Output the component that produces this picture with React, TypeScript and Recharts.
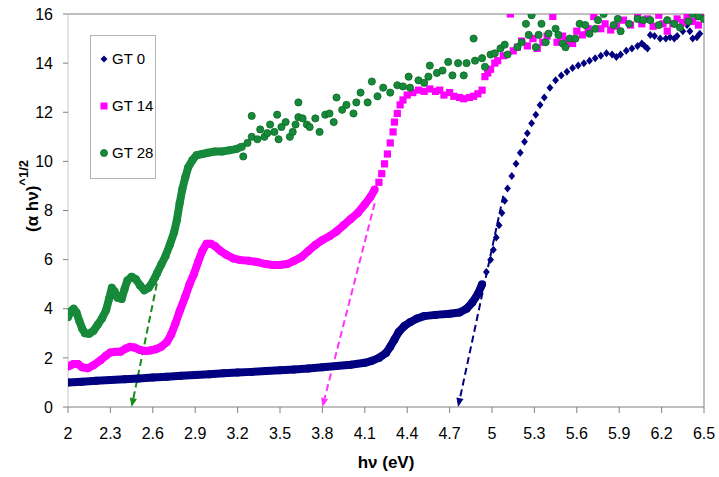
import { ComposedChart, Scatter, XAxis, YAxis, ReferenceLine } from "recharts";

type Pt = [number, number];

// GT 0: dense low-energy band, then the sparse diamonds of the steep edge
const gt0Band: Pt[] = [
  [2.0, 1.0], [2.1, 1.03], [2.2, 1.07], [2.3, 1.1], [2.4, 1.13], [2.5, 1.16],
  [2.6, 1.2], [2.7, 1.23], [2.8, 1.27], [2.9, 1.3], [3.0, 1.33], [3.1, 1.37],
  [3.2, 1.4], [3.3, 1.43], [3.4, 1.47], [3.5, 1.5], [3.6, 1.53], [3.7, 1.57],
  [3.8, 1.62], [3.9, 1.67], [4.0, 1.72], [4.1, 1.8], [4.15, 1.88], [4.2, 2.0],
  [4.25, 2.2], [4.28, 2.45], [4.31, 2.75], [4.34, 3.05], [4.38, 3.3], [4.42, 3.45],
  [4.47, 3.6], [4.52, 3.7], [4.6, 3.75], [4.7, 3.8], [4.77, 3.85], [4.82, 4.0],
  [4.86, 4.25], [4.9, 4.6], [4.93, 5.0],
];
const gt0Points: Pt[] = [
  [4.96, 5.5], [4.99, 6.0], [5.01, 6.4], [5.03, 6.9], [5.05, 7.4], [5.07, 7.9],
  [5.09, 8.4], [5.11, 8.9], [5.14, 9.4], [5.17, 9.9], [5.2, 10.35], [5.23, 10.8],
  [5.25, 11.15], [5.28, 11.55], [5.31, 11.9], [5.34, 12.3], [5.37, 12.6], [5.41, 13.0],
  [5.45, 13.3], [5.49, 13.5], [5.53, 13.65], [5.57, 13.8], [5.61, 13.9], [5.65, 14.0],
  [5.69, 14.1], [5.73, 14.2], [5.77, 14.3], [5.81, 14.4], [5.85, 14.35], [5.88, 14.25],
  [5.91, 14.35], [5.95, 14.5], [5.99, 14.6], [6.03, 14.7], [6.06, 14.8], [6.08, 14.7],
  [6.1, 14.6], [6.12, 15.15], [6.15, 15.1], [6.19, 15.0], [6.23, 15.0], [6.26, 15.05],
  [6.29, 15.0], [6.31, 15.1], [6.35, 15.3], [6.38, 15.55], [6.4, 15.3], [6.42, 15.0],
  [6.45, 15.05], [6.47, 15.2],
];

// GT 14
const gt14Band: Pt[] = [
  [2.0, 1.65], [2.04, 1.75], [2.07, 1.75], [2.1, 1.62], [2.14, 1.58], [2.18, 1.7],
  [2.23, 1.9], [2.27, 2.1], [2.3, 2.22], [2.34, 2.25], [2.37, 2.25], [2.41, 2.38],
  [2.44, 2.45], [2.47, 2.42], [2.51, 2.32], [2.55, 2.28], [2.58, 2.3], [2.62, 2.35],
  [2.66, 2.45], [2.7, 2.65], [2.73, 2.95], [2.76, 3.4], [2.79, 3.9], [2.83, 4.5],
  [2.86, 5.0], [2.89, 5.4], [2.92, 5.9], [2.95, 6.35], [2.98, 6.65], [3.01, 6.65],
  [3.04, 6.55], [3.08, 6.35], [3.12, 6.2], [3.17, 6.05], [3.22, 5.98], [3.28, 5.95],
  [3.34, 5.9], [3.4, 5.82], [3.45, 5.78], [3.5, 5.78], [3.55, 5.82], [3.6, 5.95],
  [3.65, 6.1], [3.7, 6.35], [3.75, 6.6], [3.8, 6.8], [3.85, 6.95], [3.9, 7.15],
  [3.95, 7.4], [4.0, 7.65], [4.05, 7.9], [4.1, 8.25], [4.14, 8.55], [4.17, 8.85],
];
const gt14Points: Pt[] = [
  [4.2, 9.15], [4.22, 9.5], [4.24, 9.9], [4.26, 10.3], [4.28, 10.75], [4.3, 11.2],
  [4.31, 11.6], [4.33, 11.95], [4.35, 12.3], [4.37, 12.5], [4.4, 12.7], [4.44, 12.8],
  [4.48, 12.9], [4.52, 12.85], [4.56, 12.95], [4.6, 12.85], [4.63, 12.9], [4.66, 12.7],
  [4.7, 12.8], [4.73, 12.65], [4.77, 12.6], [4.8, 12.55], [4.84, 12.6], [4.87, 12.65],
  [4.9, 12.75], [4.93, 12.9], [4.95, 13.45], [4.97, 13.6], [4.99, 13.75], [5.02, 14.0],
  [5.04, 14.1], [5.08, 14.3], [5.13, 16.0], [5.15, 14.5], [5.18, 14.65], [5.21, 14.9],
  [5.25, 14.7], [5.29, 15.0], [5.32, 14.6], [5.36, 14.85], [5.39, 15.1], [5.43, 15.9],
  [5.46, 14.85], [5.5, 15.1], [5.53, 14.9], [5.57, 14.8], [5.6, 15.3], [5.64, 15.15],
  [5.68, 15.4], [5.72, 15.9], [5.77, 15.4], [5.8, 15.6], [5.84, 15.35], [5.88, 15.5],
  [5.93, 15.75], [5.98, 15.55], [6.03, 15.95], [6.06, 15.6], [6.1, 15.8], [6.14, 15.5],
  [6.18, 15.95], [6.21, 15.6], [6.24, 15.3], [6.28, 15.6], [6.31, 15.8], [6.35, 15.65],
  [6.38, 15.9], [6.42, 15.7], [6.46, 15.55], [6.48, 15.95],
];

// GT 28
const gt28Band: Pt[] = [
  [2.0, 3.65], [2.02, 3.9], [2.04, 4.0], [2.06, 3.85], [2.08, 3.5], [2.1, 3.2],
  [2.12, 3.0], [2.15, 2.98], [2.18, 3.1], [2.21, 3.35], [2.24, 3.6], [2.27, 3.95],
  [2.29, 4.4], [2.31, 4.85], [2.33, 4.7], [2.35, 4.45], [2.38, 4.4], [2.4, 4.8],
  [2.42, 5.15], [2.45, 5.3], [2.48, 5.2], [2.51, 4.95], [2.54, 4.75], [2.57, 4.85],
  [2.6, 5.1], [2.63, 5.45], [2.66, 5.8], [2.69, 6.15], [2.72, 6.6], [2.75, 7.1],
  [2.77, 7.6], [2.79, 8.3], [2.81, 8.9], [2.83, 9.35], [2.85, 9.75], [2.88, 10.05],
  [2.91, 10.25], [2.95, 10.3], [2.99, 10.35], [3.04, 10.4], [3.09, 10.4], [3.14, 10.45],
  [3.19, 10.5], [3.23, 10.6],
];
const gt28Points: Pt[] = [
  [3.24, 10.2], [3.27, 10.75], [3.3, 11.85], [3.3, 11.0], [3.34, 10.9], [3.36, 11.3],
  [3.39, 11.0], [3.41, 11.15], [3.43, 11.5], [3.46, 11.2], [3.48, 11.9], [3.49, 10.9],
  [3.51, 11.4], [3.54, 11.6], [3.57, 11.0], [3.59, 11.2], [3.61, 11.5], [3.63, 12.4],
  [3.63, 11.8], [3.66, 11.75], [3.69, 11.5], [3.71, 11.4], [3.75, 11.75], [3.78, 11.2],
  [3.82, 11.9], [3.85, 11.95], [3.88, 11.6], [3.9, 12.6], [3.94, 12.1], [3.97, 12.3],
  [4.02, 11.95], [4.04, 12.4], [4.07, 12.8], [4.12, 12.4], [4.15, 13.25], [4.19, 12.65],
  [4.23, 13.0], [4.28, 12.8], [4.33, 13.1], [4.37, 13.05], [4.41, 13.45], [4.42, 13.0],
  [4.48, 13.3], [4.52, 13.2], [4.55, 13.45], [4.56, 13.9], [4.61, 13.6], [4.65, 13.7],
  [4.69, 14.05], [4.72, 13.5], [4.76, 14.0], [4.8, 13.5], [4.82, 14.0], [4.87, 15.0],
  [4.88, 14.1], [4.93, 14.2], [4.95, 13.85], [4.99, 14.35], [5.02, 14.4], [5.06, 14.6],
  [5.09, 14.75], [5.11, 14.35], [5.18, 14.65], [5.21, 14.85], [5.24, 15.6], [5.26, 15.15],
  [5.28, 15.95], [5.31, 14.65], [5.33, 15.15], [5.35, 15.6], [5.38, 14.85], [5.4, 15.2],
  [5.45, 15.4], [5.47, 15.15], [5.5, 14.8], [5.52, 14.65], [5.55, 15.0], [5.59, 15.0],
  [5.62, 15.6], [5.66, 15.55], [5.69, 15.2], [5.73, 15.4], [5.75, 15.75], [5.79, 16.0],
  [5.86, 15.55], [5.89, 15.8], [5.91, 15.3], [5.97, 15.6], [6.03, 15.8], [6.07, 15.75],
  [6.12, 15.75], [6.18, 15.55], [6.24, 15.75], [6.29, 15.6], [6.33, 15.45], [6.39, 15.7],
  [6.42, 16.0], [6.46, 15.9], [6.5, 15.8],
];

// band-gap tangents: [top point, x-axis intercept]
const gt0Tangent: Pt[] = [[5.08, 8.6], [4.76, 0]];
const gt14Tangent: Pt[] = [[4.17, 8.3], [3.8, 0]];
const gt28Tangent: Pt[] = [[2.66, 5.9], [2.45, 0]];

const xTicks = [2, 2.3, 2.6, 2.9, 3.2, 3.5, 3.8, 4.1, 4.4, 4.7, 5, 5.3, 5.6, 5.9, 6.2, 6.5];
const yTicks = [0, 2, 4, 6, 8, 10, 12, 14, 16];

const NAVY = "#000080";
const MAGENTA = "#ff00ff";
const GREEN = "#17893a";
const GREEN_EDGE = "#0b6a25";
const FONT = "'Liberation Sans', Arial, sans-serif";

const toXY = (pts: Pt[]) => pts.map(([x, y]) => ({ x, y }));
const toSeg = (pts: Pt[]) => pts.map(([x, y]) => ({ x, y }));

const bandDot = (color: string) => (p: any) => <circle cx={p.cx} cy={p.cy} r={4} fill={color} />;
const diamond = (p: any) => (
  <polygon
    points={`${p.cx},${p.cy - 4} ${p.cx + 3.4},${p.cy} ${p.cx},${p.cy + 4} ${p.cx - 3.4},${p.cy}`}
    fill={NAVY}
  />
);
const square = (p: any) => <rect x={p.cx - 3.6} y={p.cy - 3.6} width={7.2} height={7.2} fill={MAGENTA} />;
const circle = (p: any) => (
  <circle cx={p.cx} cy={p.cy} r={3.6} fill={GREEN} stroke={GREEN_EDGE} strokeWidth={0.8} />
);

const arrow = (color: string) => (props: any) => {
  const { x1, y1, x2, y2 } = props;
  const dx = x2 - x1;
  const dy = y2 - y1;
  const len = Math.hypot(dx, dy) || 1;
  const ux = dx / len;
  const uy = dy / len;
  const hl = 9;
  const hw = 3.6;
  const bx = x2 - ux * hl;
  const by = y2 - uy * hl;
  return (
    <g>
      <line x1={x1} y1={y1} x2={bx} y2={by} stroke={color} strokeWidth={2} strokeDasharray="7 4" />
      <polygon
        points={`${x2},${y2} ${bx - uy * hw},${by + ux * hw} ${bx + uy * hw},${by - ux * hw}`}
        fill={color}
      />
    </g>
  );
};

const yLabel = () => (
  <text
    transform="translate(38,196) rotate(-90)"
    textAnchor="middle"
    fontFamily={FONT}
    fontWeight="bold"
    fontSize={17}
    fill="#000"
  >
    (α hν)
    <tspan dy={-10} fontSize={13}>^1/2</tspan>
  </text>
);

const xLabel = () => (
  <text x={386} y={468} textAnchor="middle" fontFamily={FONT} fontWeight="bold" fontSize={17} fill="#000">
    hν (eV)
  </text>
);

const legendItems = [
  { name: "GT 0", marker: <polygon points="5,1.5 8.5,5 5,8.5 1.5,5" fill={NAVY} /> },
  { name: "GT 14", marker: <rect x={1.5} y={1.5} width={7} height={7} fill={MAGENTA} /> },
  { name: "GT 28", marker: <circle cx={5} cy={5} r={3.5} fill={GREEN} stroke={GREEN_EDGE} strokeWidth={0.8} /> },
];

export default function App() {
  return (
    <div style={{ position: "absolute", left: 0, top: 0, width: 719, height: 477, background: "#fff" }}>
      <ComposedChart width={719} height={477} margin={{ top: 14, right: 15, left: 0, bottom: 0 }}>
        <XAxis
          type="number"
          dataKey="x"
          domain={[2, 6.5]}
          ticks={xTicks}
          interval={0}
          allowDataOverflow
          height={70}
          tickSize={6}
          tickMargin={15}
          stroke="#808080"
          tick={{ fontSize: 16, fill: "#000", fontFamily: FONT }}
          label={{ content: xLabel }}
        />
        <YAxis
          type="number"
          dataKey="y"
          domain={[0, 16]}
          ticks={yTicks}
          interval={0}
          allowDataOverflow
          width={68}
          tickSize={5}
          tickMargin={10}
          axisLine={{ stroke: "#c8c8c8" }}
          tickLine={{ stroke: "#808080" }}
          tick={{ fontSize: 16, fill: "#000", fontFamily: FONT }}
          label={{ content: yLabel }}
        />
        <ReferenceLine y={16} stroke="#808080" />
        <ReferenceLine x={6.5} stroke="#808080" />

        <Scatter
          data={toXY(gt0Band)}
          line={{ stroke: NAVY, strokeWidth: 8, strokeLinejoin: "round" }}
          shape={bandDot(NAVY)}
          isAnimationActive={false}
        />
        <Scatter data={toXY(gt0Points)} shape={diamond} isAnimationActive={false} />

        <Scatter
          data={toXY(gt14Band)}
          line={{ stroke: MAGENTA, strokeWidth: 8, strokeLinejoin: "round" }}
          shape={bandDot(MAGENTA)}
          isAnimationActive={false}
        />
        <Scatter data={toXY(gt14Points)} shape={square} isAnimationActive={false} />

        <Scatter
          data={toXY(gt28Band)}
          line={{ stroke: GREEN, strokeWidth: 8, strokeLinejoin: "round" }}
          shape={bandDot(GREEN)}
          isAnimationActive={false}
        />
        <Scatter data={toXY(gt28Points)} shape={circle} isAnimationActive={false} />

        <ReferenceLine segment={toSeg(gt28Tangent)} shape={arrow("#1a8a1a")} />
        <ReferenceLine segment={toSeg(gt14Tangent)} shape={arrow("#ff33ff")} />
        <ReferenceLine segment={toSeg(gt0Tangent)} shape={arrow(NAVY)} />
      </ComposedChart>

      <div
        style={{
          position: "absolute",
          left: 90,
          top: 35,
          width: 66,
          height: 144,
          border: "1px solid #b4b4b4",
          boxSizing: "border-box",
          fontFamily: FONT,
          fontSize: 15,
          background: "#fff",
        }}
      >
        {legendItems.map((item, i) => (
          <div
            key={item.name}
            style={{ position: "absolute", left: 8, top: 14 + i * 47, display: "flex", alignItems: "center", gap: 3 }}
          >
            <svg width={10} height={10}>{item.marker}</svg>
            <span>{item.name}</span>
          </div>
        ))}
      </div>
    </div>
  );
}
